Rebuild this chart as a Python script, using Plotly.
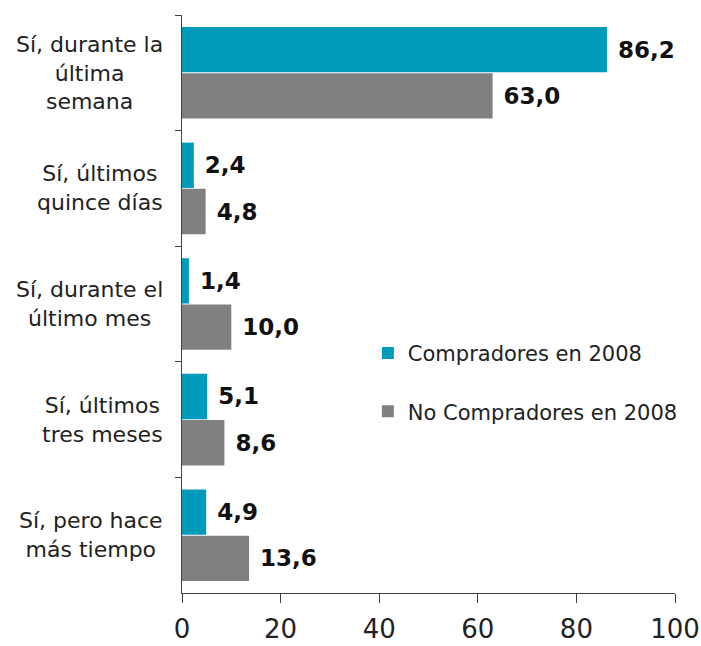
import plotly.graph_objects as go

categories = [
    "Sí, durante la<br>última<br>semana",
    "Sí, últimos<br>quince días",
    "Sí, durante el<br>último mes",
    "Sí, últimos<br>tres meses",
    "Sí, pero hace<br>más tiempo",
]
compradores = [86.2, 2.4, 1.4, 5.1, 4.9]
no_compradores = [63.0, 4.8, 10.0, 8.6, 13.6]
series_names = ["Compradores en 2008", "No Compradores en 2008"]
x_ticks = [0, 20, 40, 60, 80, 100]

FONT = "DejaVu Sans"
colors = ["#009BBB", "#808080"]

fig = go.Figure()
for name, vals, col, grp in [(series_names[0], compradores, colors[0], "a"),
                             (series_names[1], no_compradores, colors[1], "b")]:
    fig.add_trace(go.Bar(
        y=categories, x=vals, name=name, orientation="h",
        marker=dict(color=col, line=dict(width=0)),
        texttemplate="\u00a0%{x:.1f}", textposition="outside",
        textfont=dict(family=FONT, size=23, color="#111111", weight="bold"),
        constraintext="none", cliponaxis=False, legendgroup=grp,
    ))

for cat in categories:
    fig.add_annotation(
        x=-0.034, xref="paper", y=cat, yref="y", text=cat, showarrow=False,
        xanchor="right", yanchor="middle", align="center",
        font=dict(family=FONT, size=22, color="#222222"),
    )

fig.update_layout(
    width=701, height=646,
    margin=dict(l=182, r=26, t=15, b=53),
    paper_bgcolor="white", plot_bgcolor="white",
    barmode="group", bargap=0.2, bargroupgap=0.02,
    separators=",.",
    font=dict(family=FONT, color="#222222"),
    showlegend=True,
    legend=dict(
        x=0.377, y=0.45, xanchor="left", yanchor="top",
        font=dict(family=FONT, size=21, color="#222222"),
        tracegroupgap=28, traceorder="grouped",
        bgcolor="rgba(0,0,0,0)",
    ),
    xaxis=dict(
        range=[0, 100], tickvals=x_ticks, ticktext=[str(v) for v in x_ticks],
        showgrid=False, zeroline=False, showline=True, linecolor="#404040", linewidth=1,
        ticks="outside", ticklen=9, tickcolor="#404040", ticklabelstandoff=4,
        tickfont=dict(family=FONT, size=26, color="#222222"), automargin=False,
    ),
    yaxis=dict(
        autorange="reversed", showgrid=False, zeroline=False,
        showline=True, linecolor="#404040", linewidth=1,
        ticks="outside", ticklen=6, tickcolor="#404040", tickson="boundaries",
        showticklabels=False, automargin=False,
    ),
)

fig.write_html("out.html", config={"displayModeBar": False},
               post_script="document.body.style.margin='0';document.body.style.overflow='hidden';")
